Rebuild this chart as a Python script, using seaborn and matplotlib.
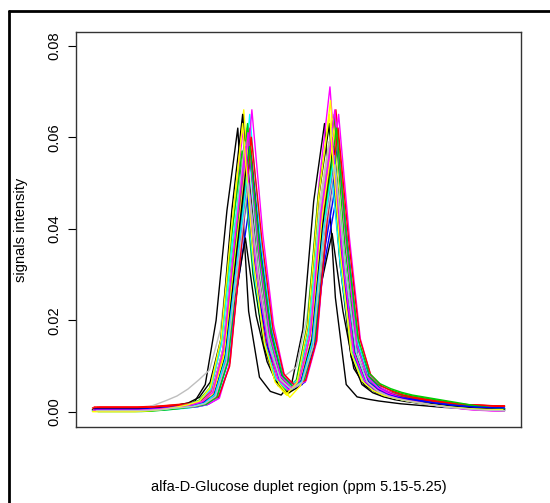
import numpy as np
import pandas as pd
import seaborn as sns
from matplotlib import pyplot as plt
from matplotlib.lines import Line2D

# R default palette, cycled over the spectra (matplot style)
r_palette = ['#000000', '#FF0000', '#00CD00', '#0000FF',
             '#00FFFF', '#FF00FF', '#FFFF00', '#BEBEBE']

# 39 buckets across ppm 5.15-5.25 (plotted as bucket index, no x ticks)
n_points = 39

# per-spectrum offset along the bucket axis (spectra are not aligned)
shifts = [-0.60, 0.15, 0.05, 0.35, 0.25, -0.10, -0.05, -0.20,
          0.10, 0.45, -0.20, 0.60, 0.50, 0.70, 0.15, 0.40,
          -0.15, 0.00, 0.30, 0.45, -0.10, 0.35, 0.20, 0.05,
          0.25, 0.65, 0.50, 0.20, 0.30, 0.10, -0.15, 0.35]

# intensities, x 1e-3
s01 = [0.6, 0.6, 0.6, 0.6, 0.6, 0.7, 0.8, 1.0, 1.2, 1.5, 2.2, 6.0, 20, 44, 62, 22, 7.6, 4.5, 3.7, 6.5, 18, 46, 63, 25, 6.0, 3.3, 2.8, 2.4, 2.1, 1.8, 1.6, 1.4, 1.2, 1.0, 0.9, 0.8, 0.8, 0.8, 0.8]
s02 = [1.1, 1.1, 1.1, 1.1, 1.1, 1.2, 1.3, 1.5, 1.7, 2.0, 2.6, 4.5, 13, 36, 58, 32, 16, 7.5, 5.2, 6.8, 18, 46, 64, 35, 14, 7.5, 5.3, 4.2, 3.5, 3.1, 2.7, 2.4, 2.1, 1.8, 1.6, 1.5, 1.4, 1.3, 1.3]
s03 = [0.2, 0.2, 0.2, 0.2, 0.2, 0.3, 0.5, 0.8, 1.1, 1.5, 2.2, 4.5, 14, 38, 60, 33, 17, 7.5, 5.0, 6.8, 17, 44, 61, 34, 14, 7.8, 5.6, 4.6, 3.9, 3.4, 3.0, 2.6, 2.2, 1.8, 1.4, 1.1, 0.9, 0.7, 0.6]
s04 = [0.5, 0.5, 0.5, 0.5, 0.5, 0.6, 0.7, 0.9, 1.1, 1.4, 1.9, 3.2, 10, 27, 43, 25, 13, 6.5, 4.8, 6.0, 13, 32, 45, 26, 11, 6.5, 4.7, 3.7, 3.1, 2.7, 2.3, 1.9, 1.6, 1.3, 1.1, 1.0, 0.9, 0.8, 0.7]
s05 = [0.3, 0.3, 0.3, 0.3, 0.3, 0.4, 0.6, 0.8, 1.0, 1.3, 1.9, 4.0, 13, 38, 62, 35, 18, 7.6, 5.2, 6.8, 16, 43, 60, 33, 13, 7.0, 4.8, 3.7, 3.0, 2.6, 2.2, 1.8, 1.5, 1.2, 0.9, 0.7, 0.6, 0.5, 0.4]
s06 = [0.4, 0.4, 0.4, 0.4, 0.4, 0.5, 0.7, 0.9, 1.2, 1.6, 2.3, 4.6, 15, 40, 62, 34, 17, 7.4, 5.0, 7.0, 19, 50, 71, 39, 15, 7.6, 5.2, 4.0, 3.2, 2.7, 2.2, 1.8, 1.4, 1.1, 0.8, 0.6, 0.4, 0.3, 0.3]
s07 = [0.1, 0.1, 0.1, 0.1, 0.1, 0.2, 0.4, 0.7, 1.0, 1.5, 2.4, 5.5, 16, 42, 66, 35, 16, 6.5, 3.6, 6.0, 18, 48, 68, 37, 14, 7.0, 4.8, 3.7, 3.0, 2.5, 2.1, 1.7, 1.4, 1.1, 0.9, 0.7, 0.6, 0.5, 0.5]
s08 = [0.5, 0.5, 0.5, 0.5, 0.5, 0.8, 1.6, 2.5, 3.5, 5.0, 7.0, 9.2, 18, 38, 57, 32, 17, 10, 8.0, 9.8, 21, 43, 59, 33, 13, 7.0, 4.8, 3.7, 3.0, 2.5, 2.1, 1.7, 1.4, 1.1, 0.9, 0.7, 0.6, 0.5, 0.5]
s09 = [0.7, 0.7, 0.7, 0.7, 0.7, 0.8, 0.9, 1.1, 1.3, 1.6, 2.1, 3.6, 9.0, 24, 38, 21, 11, 5.8, 4.2, 5.6, 11.5, 28, 39, 22, 9.5, 5.8, 4.3, 3.5, 2.9, 2.5, 2.1, 1.8, 1.5, 1.3, 1.1, 1.0, 0.9, 0.8, 0.7]
s10 = [1.0, 1.0, 1.0, 1.0, 1.0, 1.1, 1.2, 1.4, 1.6, 1.8, 2.3, 3.8, 12, 36, 62, 36, 18, 8.0, 5.5, 7.0, 17, 46, 66, 38, 15, 7.8, 5.4, 4.3, 3.6, 3.1, 2.7, 2.4, 2.1, 1.8, 1.6, 1.5, 1.4, 1.3, 1.3]
s11 = [0.3, 0.3, 0.3, 0.3, 0.3, 0.4, 0.6, 0.9, 1.2, 1.7, 2.5, 5.2, 15, 38, 57, 30, 15, 7.2, 4.8, 7.0, 19, 47, 63, 34, 14, 8.0, 5.8, 4.8, 4.0, 3.5, 3.1, 2.7, 2.3, 1.9, 1.6, 1.3, 1.1, 0.9, 0.8]
s12 = [0.3, 0.3, 0.3, 0.3, 0.3, 0.4, 0.5, 0.7, 0.9, 1.1, 1.6, 3.0, 10, 33, 56, 34, 17, 7.6, 5.3, 6.5, 15, 40, 58, 35, 14, 7.2, 5.0, 3.8, 3.1, 2.6, 2.2, 1.8, 1.5, 1.2, 1.0, 0.9, 0.8, 0.7, 0.6]
s13 = [0.2, 0.2, 0.2, 0.2, 0.2, 0.3, 0.4, 0.6, 0.8, 1.1, 1.6, 3.0, 11, 37, 65, 38, 19, 8.0, 5.2, 6.6, 15.5, 43, 62, 36, 15, 7.2, 5.0, 3.8, 3.0, 2.5, 2.0, 1.6, 1.3, 1.0, 0.8, 0.6, 0.5, 0.4, 0.3]
s14 = [0.4, 0.4, 0.4, 0.4, 0.4, 0.5, 0.6, 0.8, 1.0, 1.2, 1.7, 3.0, 11, 37, 66, 39, 19, 8.0, 5.4, 6.8, 15.5, 44, 65, 38, 16, 7.6, 5.2, 4.0, 3.2, 2.7, 2.2, 1.7, 1.3, 1.0, 0.7, 0.5, 0.4, 0.3, 0.3]
s15 = [0.2, 0.2, 0.2, 0.2, 0.2, 0.3, 0.5, 0.8, 1.1, 1.5, 2.2, 4.4, 14, 38, 60, 33, 16, 7.2, 4.6, 6.6, 18, 46, 64, 35, 14, 7.0, 4.8, 3.7, 3.0, 2.6, 2.2, 1.8, 1.4, 1.1, 0.9, 0.7, 0.6, 0.5, 0.5]
s16 = [0.3, 0.3, 0.3, 0.3, 0.3, 0.4, 0.6, 0.8, 1.0, 1.3, 1.8, 3.4, 11, 33, 53, 30, 15, 7.2, 5.0, 6.5, 15, 37, 52, 30, 13, 6.8, 4.7, 3.6, 2.9, 2.5, 2.1, 1.7, 1.3, 1.0, 0.8, 0.6, 0.5, 0.4, 0.3]
s17 = [0.5, 0.5, 0.5, 0.5, 0.5, 0.6, 0.8, 1.1, 1.5, 2.0, 3.2, 6.5, 16, 44, 65, 30, 14, 7.0, 4.2, 6.5, 19, 47, 63, 32, 12, 6.0, 4.2, 3.3, 2.7, 2.3, 2.0, 1.7, 1.4, 1.2, 1.0, 0.9, 0.8, 0.7, 0.6]
s18 = [0.9, 0.9, 0.9, 0.9, 0.9, 1.0, 1.2, 1.4, 1.6, 1.9, 2.5, 4.4, 13, 34, 52, 29, 15, 7.5, 5.3, 7.0, 17, 43, 60, 33, 14, 7.4, 5.3, 4.3, 3.6, 3.1, 2.8, 2.5, 2.2, 1.9, 1.7, 1.5, 1.4, 1.3, 1.2]
s19 = [0.2, 0.2, 0.2, 0.2, 0.2, 0.3, 0.5, 0.7, 1.0, 1.3, 1.9, 4.0, 13, 39, 63, 35, 17, 7.8, 5.2, 7.0, 17, 46, 65, 36, 15, 8.2, 6.0, 5.0, 4.2, 3.6, 3.2, 2.8, 2.4, 2.0, 1.6, 1.3, 1.0, 0.8, 0.7]
s20 = [0.4, 0.4, 0.4, 0.4, 0.4, 0.5, 0.6, 0.8, 1.0, 1.2, 1.7, 3.3, 11, 35, 58, 34, 17, 8.0, 5.8, 6.8, 14, 36, 50, 29, 12, 6.6, 4.8, 3.9, 3.2, 2.8, 2.4, 2.0, 1.7, 1.4, 1.2, 1.0, 0.9, 0.9, 0.8]
s21 = [0.2, 0.2, 0.2, 0.2, 0.2, 0.3, 0.5, 0.8, 1.2, 1.7, 2.5, 5.0, 15, 37, 55, 30, 15, 7.2, 5.0, 7.0, 17, 42, 57, 31, 13, 6.8, 4.7, 3.7, 3.0, 2.5, 2.1, 1.7, 1.3, 1.0, 0.8, 0.6, 0.5, 0.4, 0.3]
s22 = [0.3, 0.3, 0.3, 0.3, 0.3, 0.4, 0.5, 0.7, 1.0, 1.2, 1.8, 3.5, 12, 37, 61, 35, 17, 7.8, 5.2, 6.8, 17, 47, 66, 38, 15, 7.6, 5.2, 4.0, 3.2, 2.6, 2.1, 1.6, 1.2, 0.9, 0.6, 0.4, 0.3, 0.2, 0.2]
s23 = [0.2, 0.2, 0.2, 0.2, 0.2, 0.3, 0.5, 0.7, 1.0, 1.3, 1.9, 4.0, 13, 35, 55, 31, 15, 6.2, 3.2, 5.8, 16, 43, 60, 33, 13, 6.8, 4.7, 3.6, 2.9, 2.4, 2.0, 1.6, 1.3, 1.0, 0.8, 0.6, 0.5, 0.4, 0.3]
s24 = [0.4, 0.4, 0.4, 0.4, 0.4, 0.5, 0.6, 0.9, 1.2, 1.5, 2.2, 4.4, 14, 37, 59, 32, 16, 7.3, 4.8, 6.9, 17, 45, 62, 34, 13, 6.8, 4.7, 3.6, 2.9, 2.5, 2.1, 1.7, 1.4, 1.1, 0.9, 0.7, 0.6, 0.5, 0.4]
s25 = [0.6, 0.6, 0.6, 0.6, 0.6, 0.7, 0.8, 1.0, 1.2, 1.5, 2.0, 3.8, 12, 34, 55, 31, 15, 7.0, 4.8, 6.6, 16, 41, 58, 32, 13, 6.5, 4.6, 3.6, 2.9, 2.5, 2.1, 1.8, 1.5, 1.2, 1.0, 0.8, 0.7, 0.6, 0.5]
s26 = [1.0, 1.0, 1.0, 1.0, 1.0, 1.1, 1.2, 1.3, 1.5, 1.7, 2.1, 3.4, 10, 34, 60, 37, 18, 8.3, 5.8, 6.9, 15.5, 42, 62, 37, 16, 8.2, 5.7, 4.5, 3.7, 3.2, 2.8, 2.4, 2.1, 1.8, 1.6, 1.5, 1.4, 1.3, 1.3]
s27 = [0.1, 0.1, 0.1, 0.1, 0.1, 0.2, 0.4, 0.6, 0.9, 1.2, 1.7, 3.4, 11, 35, 58, 34, 17, 8.0, 5.5, 7.0, 16, 44, 62, 36, 16, 8.5, 6.2, 5.1, 4.3, 3.7, 3.3, 2.9, 2.5, 2.1, 1.7, 1.3, 1.0, 0.8, 0.7]
s28 = [0.6, 0.6, 0.6, 0.6, 0.6, 0.7, 0.8, 1.0, 1.2, 1.5, 2.0, 3.6, 11, 30, 48, 27, 14, 7.0, 5.0, 6.4, 14.5, 37, 52, 29, 12, 6.3, 4.6, 3.8, 3.2, 2.8, 2.4, 2.1, 1.8, 1.5, 1.3, 1.1, 1.0, 0.9, 0.9]
s29 = [0.3, 0.3, 0.3, 0.3, 0.3, 0.4, 0.5, 0.8, 1.0, 1.3, 1.9, 3.8, 12, 32, 52, 29, 15, 7.0, 4.9, 6.6, 15.5, 40, 56, 31, 13, 6.5, 4.5, 3.5, 2.8, 2.4, 2.0, 1.6, 1.3, 1.0, 0.8, 0.6, 0.5, 0.4, 0.3]
s30 = [0.4, 0.4, 0.4, 0.4, 0.4, 0.5, 0.7, 0.9, 1.2, 1.5, 2.2, 4.3, 14, 37, 58, 32, 16, 7.3, 4.8, 6.9, 17, 44, 60, 33, 13, 6.8, 4.8, 3.7, 3.0, 2.5, 2.1, 1.6, 1.3, 1.0, 0.7, 0.5, 0.4, 0.3, 0.3]
s31 = [0.1, 0.1, 0.1, 0.1, 0.1, 0.2, 0.4, 0.7, 1.1, 1.6, 2.4, 5.3, 16, 41, 63, 33, 15, 6.5, 3.8, 6.3, 19, 47, 65, 35, 13, 6.8, 4.7, 3.6, 3.0, 2.5, 2.1, 1.7, 1.4, 1.1, 0.9, 0.7, 0.6, 0.5, 0.5]
s32 = [0.3, 0.3, 0.3, 0.3, 0.3, 0.4, 0.5, 0.8, 1.0, 1.2, 1.8, 3.4, 11, 31, 50, 29, 14, 7.0, 5.0, 6.5, 14.5, 39, 54, 31, 13, 6.5, 4.5, 3.4, 2.8, 2.3, 1.9, 1.5, 1.2, 0.9, 0.7, 0.5, 0.4, 0.3, 0.3]

spectra = [s01, s02, s03, s04, s05, s06, s07, s08, s09, s10, s11, s12, s13, s14, s15, s16,
           s17, s18, s19, s20, s21, s22, s23, s24, s25, s26, s27, s28, s29, s30, s31, s32]

y_ticks = [0.00, 0.02, 0.04, 0.06, 0.08]
y_ticklabels = ['0.00', '0.02', '0.04', '0.06', '0.08']

# long table for seaborn; positions kept inside the ppm window
rows = []
for i, (sp, sh) in enumerate(zip(spectra, shifts)):
    pos = np.clip(np.arange(len(sp)) + sh, 0, n_points - 1)
    for p, v in zip(pos, sp):
        rows.append({'spectrum': i, 'pos': p, 'intensity': v * 1e-3})
df = pd.DataFrame(rows)
colors = [r_palette[i % len(r_palette)] for i in range(len(spectra))]

sns.set_theme(style='white')
plt.rcParams['font.family'] = ['Liberation Sans', 'DejaVu Sans']

fig = plt.figure(figsize=(5.5, 5.03), dpi=100)
ax = fig.add_axes([76 / 550, 1 - 427 / 503, 445 / 550, 395 / 503])

sns.lineplot(data=df, x='pos', y='intensity', hue='spectrum', palette=colors,
             estimator=None, sort=False, legend=False, linewidth=1.0, ax=ax)

# R-style 4% padding
pad = 0.04 * (n_points - 1)
ax.set_xlim(-pad, n_points - 1 + pad)
ax.set_ylim(-0.00328, 0.08299)
ax.set_xticks([])
ax.set_yticks(y_ticks)
ax.set_yticklabels(y_ticklabels, rotation=90, va='center', fontsize=10.5)
ax.tick_params(axis='y', left=True, direction='out', length=5.8, width=0.8,
               pad=4.5, color='black', labelcolor='black')
ax.set_xlabel('')
ax.set_ylabel('')
for sp in ax.spines.values():
    sp.set_color('#333333')
    sp.set_linewidth(1.0)

fig.text(21.5 / 550, 1 - 229.5 / 503, 'signals intensity', rotation=90,
         ha='center', va='center', fontsize=10.5, color='black')
fig.text(298.5 / 550, 1 - 487 / 503, 'alfa-D-Glucose duplet region (ppm 5.15-5.25)',
         ha='center', va='center', fontsize=10.5, color='black')

# outer frame (top and left edges visible in the crop)
fig.add_artist(Line2D([9 / 550, 1], [1 - 11 / 503, 1 - 11 / 503],
                      transform=fig.transFigure, color='black', lw=2))
fig.add_artist(Line2D([9 / 550, 9 / 550], [0, 1 - 11 / 503],
                      transform=fig.transFigure, color='black', lw=2))

fig.savefig('out.png', dpi=100)
